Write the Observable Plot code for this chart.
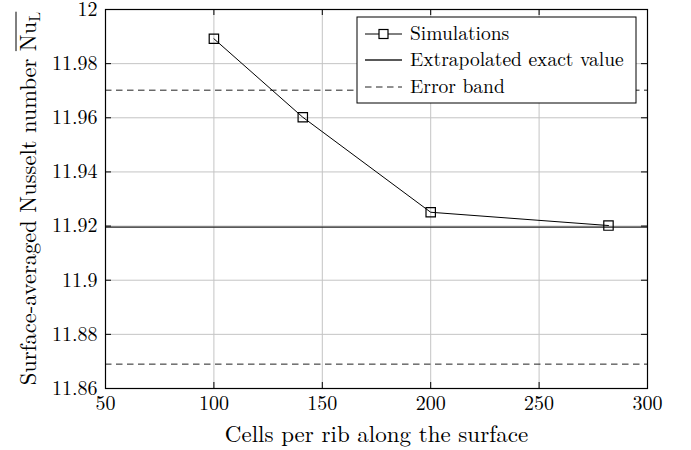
<!DOCTYPE html>
<html>
<head>
<meta charset="utf-8">
<script src="https://cdn.jsdelivr.net/npm/d3@7"></script>
<script src="https://cdn.jsdelivr.net/npm/@observablehq/plot@0.6"></script>
<style>
  body { margin: 0; background: #fff; }
  #chart svg { display: block; }
</style>
</head>
<body>
<div id="chart"></div>
<script>
// Grid-convergence study: surface-averaged Nusselt number vs. mesh resolution
const cells = [100, 141, 200, 282];
const nusselt = [11.9892, 11.9602, 11.9251, 11.9202];
const exactValue = 11.9196;
const errorBand = [11.9702, 11.8690];

const xTicks = [50, 100, 150, 200, 250, 300];
const xTickLabels = ["50", "100", "150", "200", "250", "300"];
const yTicks = [11.86, 11.88, 11.9, 11.92, 11.94, 11.96, 11.98, 12];
const yTickLabels = ["11.86", "11.88", "11.9", "11.92", "11.94", "11.96", "11.98", "12"];

const xLabel = "Cells per rib along the surface";
const yLabelText = "Surface-averaged Nusselt number ";
const yLabelSymbol = "Nu";
const yLabelSub = "L";
const legendLabels = ["Simulations", "Extrapolated exact value", "Error band"];

const font = "'Latin Modern Roman','CMU Serif','Liberation Serif',serif";
const W = 691, H = 450;
const M = {left: 105, right: 44, top: 9, bottom: 62};
const innerH = H - M.top - M.bottom;
const innerW = W - M.left - M.right;
const tickLen = 6;
const gridColor = "#c4c4c4";

const sims = cells.map((c, i) => ({cells: c, nu: nusselt[i]}));

const chart = Plot.plot({
  width: W,
  height: H,
  marginLeft: M.left,
  marginRight: M.right,
  marginTop: M.top,
  marginBottom: M.bottom,
  style: {fontFamily: font, fontSize: "20px", color: "#000", background: "#fff"},
  x: {domain: [50, 300], label: null},
  y: {domain: [11.86, 12], label: null},
  marks: [
    Plot.gridX(xTicks, {stroke: gridColor, strokeOpacity: 1, strokeWidth: 1}),
    Plot.gridY(yTicks, {stroke: gridColor, strokeOpacity: 1, strokeWidth: 1}),
    Plot.ruleY(errorBand, {stroke: "#222", strokeWidth: 1, strokeDasharray: "6.5,4.5"}),
    Plot.ruleY([exactValue], {stroke: "#222", strokeWidth: 1.3}),
    Plot.line(sims, {x: "cells", y: "nu", stroke: "#000", strokeWidth: 1}),
    Plot.dot(sims, {x: "cells", y: "nu", symbol: "square", r: 5.3, fill: "none", stroke: "#000", strokeWidth: 1.2}),
    // inward tick marks on all four sides
    Plot.tickX(xTicks, {x: d => d, stroke: "#000", insetTop: innerH - tickLen}),
    Plot.tickX(xTicks, {x: d => d, stroke: "#000", insetBottom: innerH - tickLen}),
    Plot.tickY(yTicks, {y: d => d, stroke: "#000", insetRight: innerW - tickLen}),
    Plot.tickY(yTicks, {y: d => d, stroke: "#000", insetLeft: innerW - tickLen}),
    Plot.frame({stroke: "#000", strokeWidth: 1.2}),
    Plot.axisX(xTicks, {anchor: "bottom", tickSize: 0, tickPadding: 7, label: null,
      tickFormat: d => xTickLabels[xTicks.indexOf(d)]}),
    Plot.axisY(yTicks, {anchor: "left", tickSize: 0, tickPadding: 8, label: null,
      tickFormat: d => yTickLabels[yTicks.indexOf(d)]}),
    Plot.text([xLabel], {frameAnchor: "bottom", dy: 46, lineAnchor: "middle", text: d => d, fontSize: 23})
  ]
});

document.getElementById("chart").appendChild(chart);

const svg = d3.select(chart);

// y-axis title with overlined, subscripted symbol
const yPos = `translate(36,${M.top + innerH / 2}) rotate(-90)`;
const yTitle = svg.append("text")
  .attr("transform", yPos)
  .attr("text-anchor", "middle")
  .attr("font-family", font)
  .attr("font-size", 22.5)
  .attr("fill", "#000");
yTitle.append("tspan").text(yLabelText);
yTitle.append("tspan").text(yLabelSymbol);
yTitle.append("tspan").attr("font-size", 16).attr("dy", 4).text(yLabelSub);
{
  const node = yTitle.node();
  const i0 = yLabelText.length;
  const i1 = i0 + yLabelSymbol.length + yLabelSub.length - 1;
  const a = node.getExtentOfChar(i0);
  const b = node.getExtentOfChar(i1);
  svg.append("line")
    .attr("transform", yPos)
    .attr("x1", a.x).attr("x2", b.x + b.width)
    .attr("y1", -20).attr("y2", -20)
    .attr("stroke", "#000").attr("stroke-width", 1);
}

// legend box in the upper-right corner of the plot frame
const legW = 279, legH = 86;
const legX = W - M.right - 11 - legW, legY = M.top + 8;
const leg = svg.append("g").attr("transform", `translate(${legX},${legY})`);
leg.append("rect").attr("width", legW).attr("height", legH)
  .attr("fill", "#fff").attr("stroke", "#000").attr("stroke-width", 1);
const rowY = [17, 43, 70];
legendLabels.forEach((label, i) => {
  const y = rowY[i];
  const line = leg.append("line")
    .attr("x1", 8).attr("x2", 45).attr("y1", y).attr("y2", y)
    .attr("stroke", "#000").attr("stroke-width", 1);
  if (i === 2) line.attr("stroke-dasharray", "6.5,4.5").attr("stroke", "#222");
  if (i === 1) line.attr("stroke", "#222").attr("stroke-width", 1.3);
  if (i === 0) {
    leg.append("rect").attr("x", 26.5 - 4.5).attr("y", y - 4.5)
      .attr("width", 9).attr("height", 9)
      .attr("fill", "#fff").attr("stroke", "#000").attr("stroke-width", 1.2);
  }
  leg.append("text").attr("x", 53).attr("y", y + 5.5)
    .attr("text-anchor", "start")
    .attr("font-family", font).attr("font-size", 19.5).attr("fill", "#000")
    .text(label);
});
</script>
</body>
</html>
